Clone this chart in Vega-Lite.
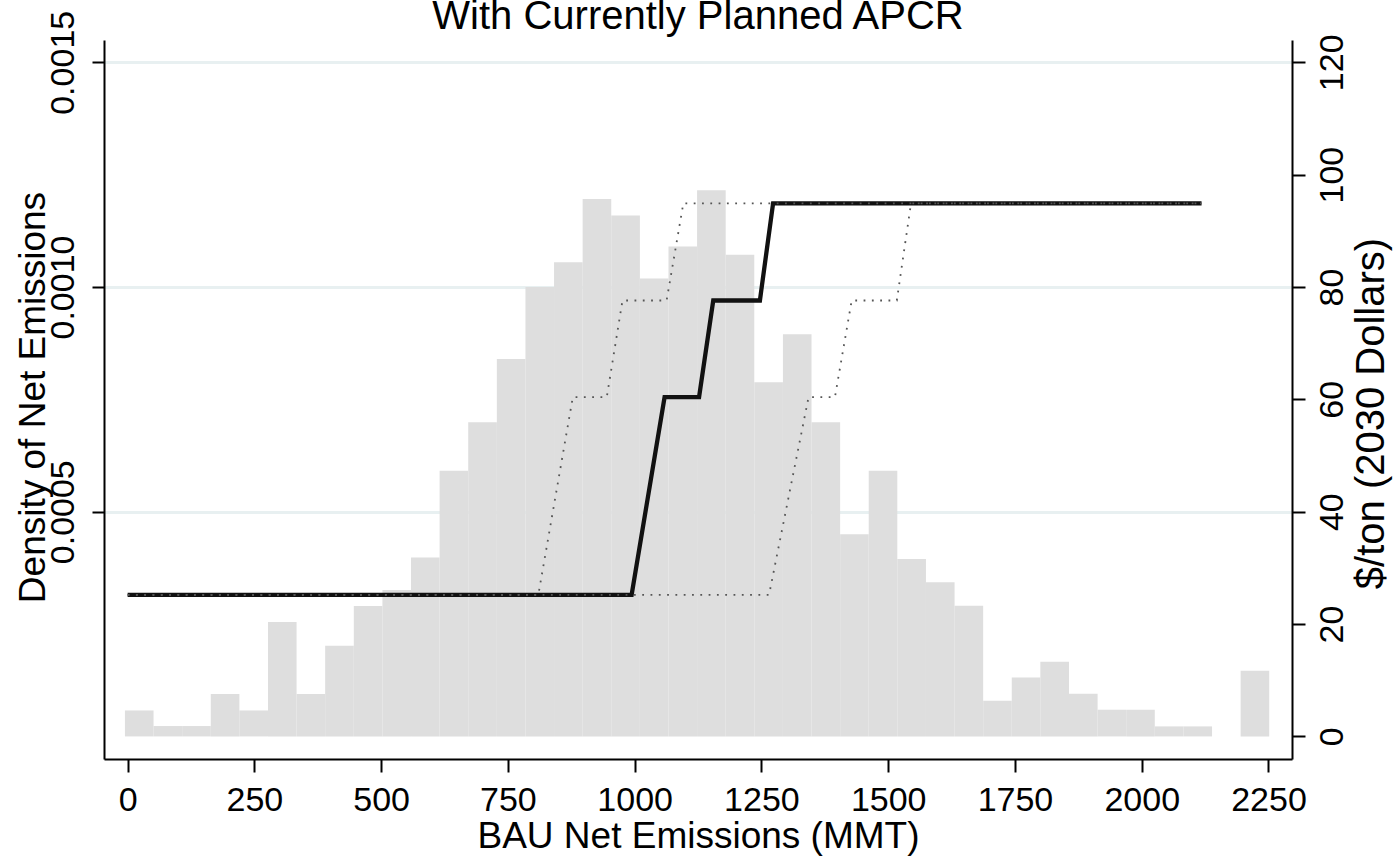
{
  "$schema": "https://vega.github.io/schema/vega-lite/v6.json",
  "width": 1188,
  "height": 719,
  "autosize": {"type": "none"},
  "padding": {"left": 104, "top": 40, "right": 101, "bottom": 99},
  "background": "white",
  "config": {
    "font": "Liberation Sans",
    "view": {"stroke": null},
    "axis": {"labelFont": "Liberation Sans", "titleFont": "Liberation Sans", "labelColor": "black", "titleColor": "black", "titleFontWeight": "normal", "domainColor": "black", "tickColor": "black", "domainWidth": 2, "tickWidth": 2, "labelOverlap": false, "labelBound": false, "labelFlush": false}
  },
  "title": {
    "text": "With Currently Planned APCR",
    "font": "Liberation Sans",
    "fontSize": 40,
    "fontWeight": "normal",
    "color": "black",
    "anchor": "middle",
    "frame": "group",
    "baseline": "alphabetic",
    "offset": -59
  },
  "datasets": {
    "bars": [
      {"bin_start": -5.3, "bin_end": 51.1, "density": 0.0000578},
      {"bin_start": 51.1, "bin_end": 107.5, "density": 0.0000231},
      {"bin_start": 107.5, "bin_end": 164.0, "density": 0.0000231},
      {"bin_start": 164.0, "bin_end": 220.4, "density": 0.0000943},
      {"bin_start": 220.4, "bin_end": 276.8, "density": 0.0000578},
      {"bin_start": 276.8, "bin_end": 333.2, "density": 0.0002545},
      {"bin_start": 333.2, "bin_end": 389.6, "density": 0.0000943},
      {"bin_start": 389.6, "bin_end": 446.1, "density": 0.0002018},
      {"bin_start": 446.1, "bin_end": 502.5, "density": 0.000290},
      {"bin_start": 502.5, "bin_end": 558.9, "density": 0.000326},
      {"bin_start": 558.9, "bin_end": 615.3, "density": 0.000398},
      {"bin_start": 615.3, "bin_end": 671.7, "density": 0.000591},
      {"bin_start": 671.7, "bin_end": 728.2, "density": 0.000699},
      {"bin_start": 728.2, "bin_end": 784.6, "density": 0.000840},
      {"bin_start": 784.6, "bin_end": 841.0, "density": 0.001000},
      {"bin_start": 841.0, "bin_end": 897.4, "density": 0.001055},
      {"bin_start": 897.4, "bin_end": 953.8, "density": 0.001196},
      {"bin_start": 953.8, "bin_end": 1010.3, "density": 0.001159},
      {"bin_start": 1010.3, "bin_end": 1066.7, "density": 0.001019},
      {"bin_start": 1066.7, "bin_end": 1123.1, "density": 0.001090},
      {"bin_start": 1123.1, "bin_end": 1179.5, "density": 0.001215},
      {"bin_start": 1179.5, "bin_end": 1235.9, "density": 0.001072},
      {"bin_start": 1235.9, "bin_end": 1292.4, "density": 0.000788},
      {"bin_start": 1292.4, "bin_end": 1348.8, "density": 0.000895},
      {"bin_start": 1348.8, "bin_end": 1405.2, "density": 0.000699},
      {"bin_start": 1405.2, "bin_end": 1461.6, "density": 0.000450},
      {"bin_start": 1461.6, "bin_end": 1518.0, "density": 0.000591},
      {"bin_start": 1518.0, "bin_end": 1574.5, "density": 0.000395},
      {"bin_start": 1574.5, "bin_end": 1630.9, "density": 0.000343},
      {"bin_start": 1630.9, "bin_end": 1687.3, "density": 0.000291},
      {"bin_start": 1687.3, "bin_end": 1743.7, "density": 0.0000794},
      {"bin_start": 1743.7, "bin_end": 1800.1, "density": 0.000131},
      {"bin_start": 1800.1, "bin_end": 1856.6, "density": 0.000166},
      {"bin_start": 1856.6, "bin_end": 1913.0, "density": 0.000095},
      {"bin_start": 1913.0, "bin_end": 1969.4, "density": 0.0000594},
      {"bin_start": 1969.4, "bin_end": 2025.8, "density": 0.0000594},
      {"bin_start": 2025.8, "bin_end": 2082.2, "density": 0.0000223},
      {"bin_start": 2082.2, "bin_end": 2138.7, "density": 0.0000223},
      {"bin_start": 2138.7, "bin_end": 2195.1, "density": 0},
      {"bin_start": 2195.1, "bin_end": 2251.5, "density": 0.000146}
    ],
    "current": [
      {"mmt": 0, "price": 25.2},
      {"mmt": 994, "price": 25.2},
      {"mmt": 1059, "price": 60.4},
      {"mmt": 1127, "price": 60.4},
      {"mmt": 1155, "price": 77.6},
      {"mmt": 1247, "price": 77.6},
      {"mmt": 1273, "price": 94.9},
      {"mmt": 2118, "price": 94.9}
    ],
    "bounds": [
      {"series": "low", "mmt": 0, "price": 25.2},
      {"series": "low", "mmt": 810, "price": 25.2},
      {"series": "low", "mmt": 878, "price": 60.4},
      {"series": "low", "mmt": 945, "price": 60.4},
      {"series": "low", "mmt": 976, "price": 77.6},
      {"series": "low", "mmt": 1063, "price": 77.6},
      {"series": "low", "mmt": 1096, "price": 94.9},
      {"series": "low", "mmt": 2118, "price": 94.9},
      {"series": "high", "mmt": 0, "price": 25.2},
      {"series": "high", "mmt": 1265, "price": 25.2},
      {"series": "high", "mmt": 1343, "price": 60.4},
      {"series": "high", "mmt": 1395, "price": 60.4},
      {"series": "high", "mmt": 1428, "price": 77.6},
      {"series": "high", "mmt": 1517, "price": 77.6},
      {"series": "high", "mmt": 1545, "price": 94.9},
      {"series": "high", "mmt": 2118, "price": 94.9}
    ]
  },
  "layer": [
    {
      "data": {"name": "bars"},
      "mark": {"type": "rect", "color": "#dedede", "strokeWidth": 0},
      "encoding": {
        "x": {
          "field": "bin_start", "type": "quantitative",
          "scale": {"domain": [-46.6, 2296.4], "nice": false, "zero": false},
          "axis": {
            "orient": "bottom", "values": [0, 250, 500, 750, 1000, 1250, 1500, 1750, 2000, 2250],
            "format": "d", "grid": false,
            "tickSize": 13, "labelFontSize": 34, "labelBaseline": "alphabetic", "labelPadding": 38.5,
            "title": "BAU Net Emissions (MMT)", "titleFontSize": 37,
            "titleBaseline": "alphabetic", "titleY": 88
          }
        },
        "x2": {"field": "bin_end"},
        "y": {
          "field": "density", "type": "quantitative",
          "scale": {"domain": [-0.00005025, 0.0015496], "nice": false, "zero": false},
          "axis": {
            "orient": "left", "values": [0.0005, 0.001, 0.0015], "format": ".4f",
            "grid": true, "gridColor": "#e8f0f1", "gridWidth": 3,
            "tickSize": 12, "labelFontSize": 34, "labelAngle": 270, "labelAlign": "center",
            "labelBaseline": "alphabetic", "labelPadding": 19,
            "title": "Density of Net Emissions", "titleFontSize": 37, "titleAngle": 270,
            "titleAlign": "center", "titleBaseline": "alphabetic", "titleX": -60, "titleY": 357
          }
        },
        "y2": {"datum": 0}
      }
    },
    {
      "layer": [
        {
          "data": {"name": "current"},
          "mark": {"type": "line", "color": "#111111", "strokeWidth": 4.3, "strokeJoin": "miter"},
          "encoding": {
            "x": {"field": "mmt", "type": "quantitative"},
            "y": {
              "field": "price", "type": "quantitative",
              "scale": {"domain": [-4.02, 123.97], "nice": false, "zero": false},
              "axis": {
                "orient": "right", "values": [0, 20, 40, 60, 80, 100, 120], "grid": false,
                "tickSize": 13, "labelFontSize": 34, "labelAngle": 270, "labelAlign": "center",
                "labelBaseline": "alphabetic", "labelPadding": 37,
                "title": "$/ton (2030 Dollars)", "titleFontSize": 40, "titleAngle": 270,
                "titleAlign": "center", "titleBaseline": "alphabetic", "titleX": 91, "titleY": 373
              }
            }
          }
        },
        {
          "data": {"name": "bounds"},
          "mark": {"type": "line", "color": "#555555", "strokeWidth": 1.8, "strokeDash": [1.8, 6.5]},
          "encoding": {
            "x": {"field": "mmt", "type": "quantitative"},
            "y": {"field": "price", "type": "quantitative"},
            "detail": {"field": "series"}
          }
        }
      ]
    }
  ],
  "resolve": {"scale": {"y": "independent"}, "axis": {"y": "independent"}}
}
